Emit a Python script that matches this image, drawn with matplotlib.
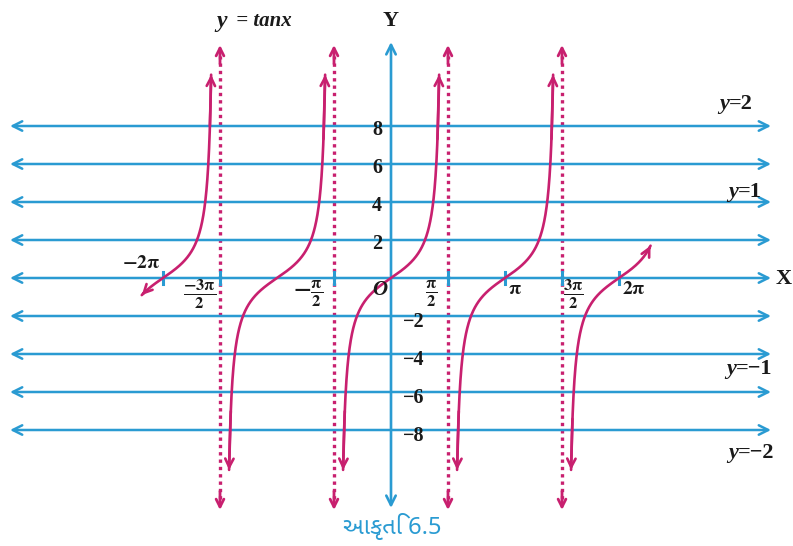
import numpy as np
import matplotlib
matplotlib.use('Agg')
import matplotlib.pyplot as plt

PI = np.pi

# ---------------- data ----------------
grid_values = [8, 6, 4, 2, 0, -2, -4, -6, -8]
pos_tick_values = [8, 6, 4, 2]
pos_tick_labels = ['8', '6', '4', '2']
neg_tick_values = [-2, -4, -6, -8]
neg_tick_labels = ['−2', '−4', '−6', '−8']
asymptotes = [-3 * PI / 2, -PI / 2, PI / 2, 3 * PI / 2]
branch_centers = [-2 * PI, -PI, 0.0, PI, 2 * PI]
branch_low = [-0.9, -10.1, -10.1, -10.1, -10.1]
branch_high = [10.7, 10.7, 10.7, 10.7, 1.7]
curve_scale = 1.2
curve_stretch = 1.1
x_tick_values = [-2 * PI, -3 * PI / 2, -PI / 2, PI / 2, PI, 3 * PI / 2, 2 * PI]
x_tick_labels = [r'$\mathbf{-2\pi}$', r'$\mathbf{\frac{-3\pi}{2}}$', r'$\mathbf{-\frac{\pi}{2}}$',
                 r'$\mathbf{\frac{\pi}{2}}$', r'$\mathbf{\pi}$', r'$\mathbf{\frac{3\pi}{2}}$',
                 r'$\mathbf{2\pi}$']
x_tick_is_fraction = [False, True, True, True, False, True, False]
line_label_rhs = ['=2', '=1', '=−1', '=−2']
line_label_levels = [8, 4, -4, -8]
title_lhs = 'y'
title_rhs = ' = tanx'
caption_text = 'આકૃતિ 6.5'

# ---------------- style ----------------
BLUE = '#2a9bd2'
MAG = '#c8206f'
TXT = '#1a1a1a'
W, H = 793, 546
ox, oy = 391, 278          # origin in pixels
sx = 57 / (PI / 2)         # px per radian
sy = 19                    # px per unit

plt.rcParams['mathtext.fontset'] = 'stix'
plt.rcParams['font.family'] = ['Liberation Serif', 'DejaVu Serif']

fig = plt.figure(figsize=(W / 100, H / 100), dpi=100)
ax = fig.add_axes([0, 0, 1, 1])
ax.set_xlim(-ox / sx, (W - ox) / sx)
ax.set_ylim((oy - H) / sy, oy / sy)
ax.axis('off')


def px(xp, yp):
    return (xp - ox) / sx, (oy - yp) / sy


# horizontal lines with arrows both ends
xl, _ = px(10, 0)
xr, _ = px(771, 0)
for g in grid_values:
    ax.annotate('', xy=(xr, g), xytext=(xl, g),
                arrowprops=dict(arrowstyle='<->', color=BLUE, lw=1.8,
                                mutation_scale=17, shrinkA=0, shrinkB=0))

# y axis
_, yt = px(0, 42)
_, yb = px(0, 508)
ax.annotate('', xy=(0, yt), xytext=(0, yb),
            arrowprops=dict(arrowstyle='<->', color=BLUE, lw=1.9,
                            mutation_scale=17, shrinkA=0, shrinkB=0))

# small ticks on x axis
for t in x_tick_values:
    ax.plot([t, t], [-0.3, 0.3], color=BLUE, lw=2.2, zorder=3)

# asymptotes (dotted, arrows both ends)
_, at = px(0, 45)
_, ab = px(0, 510)
for a in asymptotes:
    ax.plot([a, a], [ab + 0.6, at - 0.6], color=MAG, lw=2.4,
            linestyle=(0, (1, 1.2)), zorder=2)
    for y0, y1 in [(at - 1.0, at), (ab + 1.0, ab)]:
        ax.annotate('', xy=(a, y1), xytext=(a, y0),
                    arrowprops=dict(arrowstyle='->', color=MAG, lw=2.0,
                                    mutation_scale=14, shrinkA=0, shrinkB=0))

# tan branches
for c, lo, hi in zip(branch_centers, branch_low, branch_high):
    u0 = np.arctan(lo / curve_scale) / curve_stretch
    u1 = np.arctan(hi / curve_scale) / curve_stretch
    u = np.linspace(u0, u1, 400)
    x = c + u
    y = curve_scale * np.tan(curve_stretch * u)
    ax.plot(x, y, color=MAG, lw=1.9, zorder=4, solid_capstyle='round')
    ax.annotate('', xy=(x[-1], y[-1]), xytext=(x[-8], y[-8]),
                arrowprops=dict(arrowstyle='->', color=MAG, lw=1.9,
                                mutation_scale=15, shrinkA=0, shrinkB=0), zorder=5)
    ax.annotate('', xy=(x[0], y[0]), xytext=(x[7], y[7]),
                arrowprops=dict(arrowstyle='->', color=MAG, lw=1.9,
                                mutation_scale=15, shrinkA=0, shrinkB=0), zorder=5)

# y tick labels
for v, lab in zip(pos_tick_values, pos_tick_labels):
    x0, _ = px(377, 0)
    ax.text(x0, v - 0.22, lab, ha='center', va='center', fontsize=14.5,
            fontweight='bold', color=TXT, zorder=6)
for v, lab in zip(neg_tick_values, neg_tick_labels):
    x0, _ = px(414, 0)
    ax.text(x0, v - 0.32, lab, ha='center', va='center', fontsize=14.5,
            fontweight='bold', color=TXT, zorder=6)

# x tick labels (pixel centres)
x_label_px = [(141, 263), (200, 294), (308, 294), (431, 294), (515, 290), (573, 294), (634, 290)]
for (xp, yp), lab, frac in zip(x_label_px, x_tick_labels, x_tick_is_fraction):
    x0, y0 = px(xp, yp)
    ax.text(x0, y0, lab, ha='center', va='center', fontsize=17 if frac else 14,
            color=TXT, zorder=6)

# origin label
x0, y0 = px(380, 290)
ax.text(x0, y0, 'O', ha='center', va='center', fontsize=15, fontstyle='italic',
        fontweight='bold', color=TXT, zorder=6)

# right side line labels
lab_px = [(743, 104), (752, 192), (750, 369), (752, 453)]
for (xp, yp), rhs in zip(lab_px, line_label_rhs):
    x0, y0 = px(xp - 14, yp)
    ax.text(x0, y0, 'y', ha='right', va='center', fontsize=16, fontweight='bold',
            fontstyle='italic', color=TXT, zorder=6)
    ax.text(x0, y0, rhs, ha='left', va='center', fontsize=16, fontweight='bold',
            color=TXT, zorder=6)

# title and axis names
x0, y0 = px(222, 21)
ax.text(x0, y0, title_lhs, ha='center', va='center', fontsize=17,
        fontweight='bold', fontstyle='italic', color=TXT)
x0, y0 = px(231, 21)
ax.text(x0, y0, title_rhs, ha='left', va='center', fontsize=15,
        fontweight='bold', fontstyle='italic', color=TXT)
x0, y0 = px(391, 21)
ax.text(x0, y0, 'Y', ha='center', va='center', fontsize=16, fontweight='bold', color=TXT)
x0, y0 = px(784, 279)
ax.text(x0, y0, 'X', ha='center', va='center', fontsize=16, fontweight='bold', color=TXT)

# caption
x0, y0 = px(392, 527)
ax.text(x0, y0, caption_text, ha='center', va='center', fontsize=17, fontweight='bold',
        color=BLUE, family=['Noto Sans Gujarati', 'Noto Sans', 'DejaVu Sans'])

fig.savefig('out.png', dpi=100)
